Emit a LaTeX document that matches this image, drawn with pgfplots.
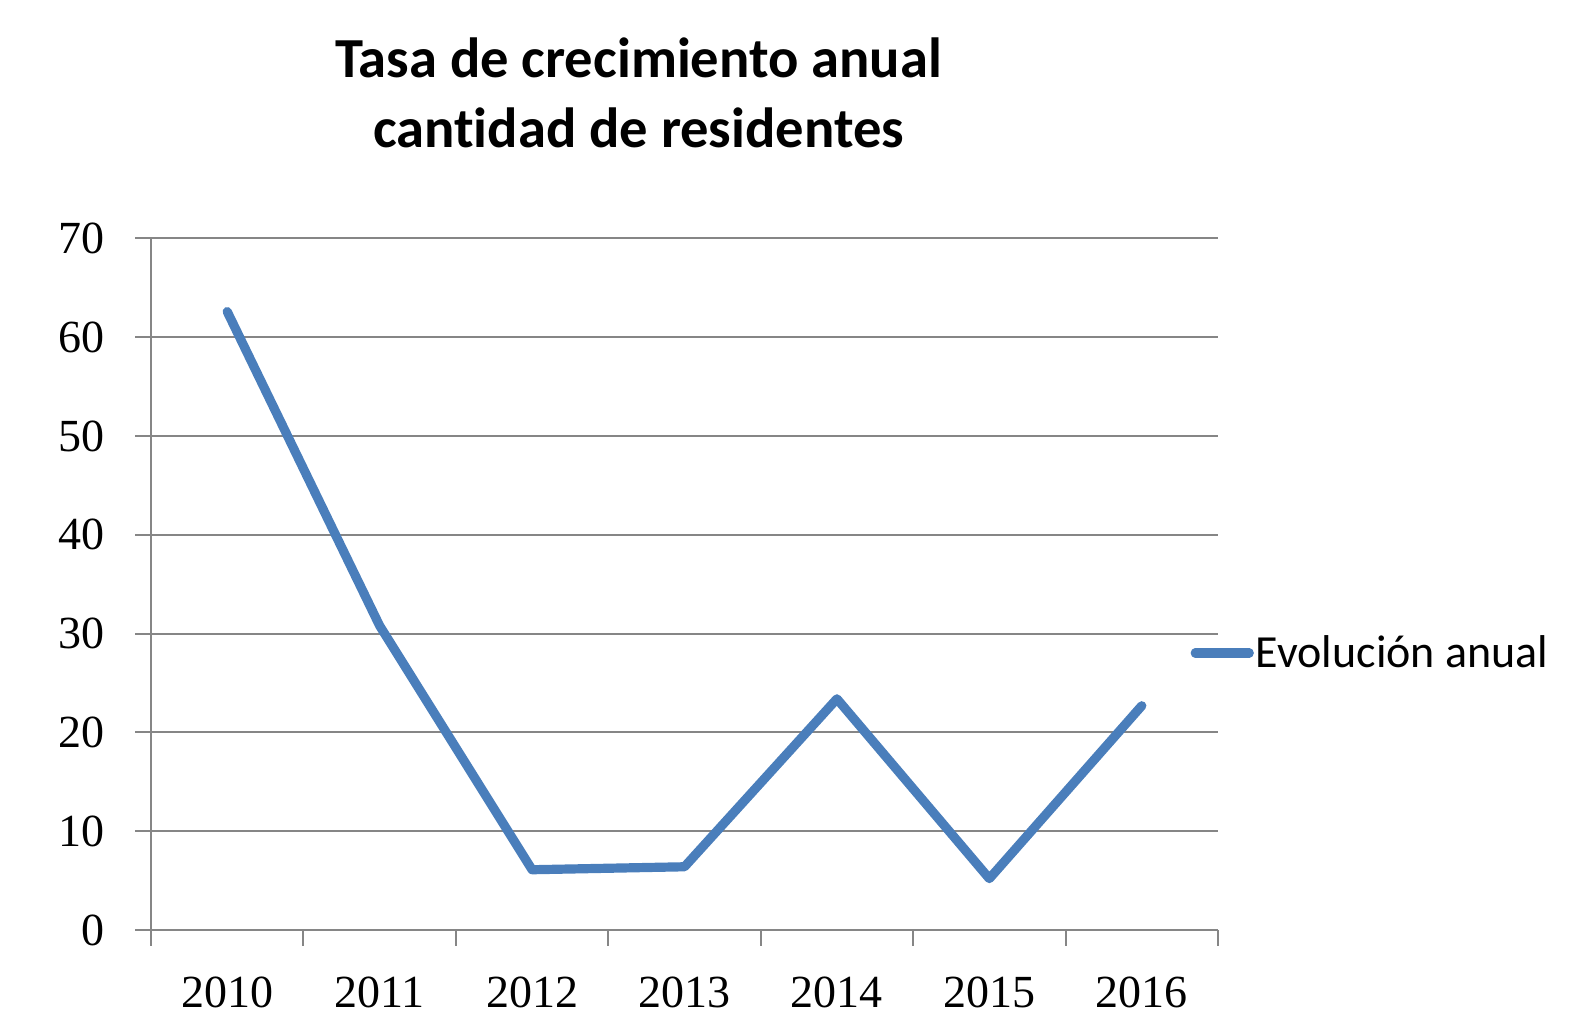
\documentclass[border=0pt]{standalone}
\usepackage{fontspec}
\usepackage{pgfplots}
\pgfplotsset{compat=1.18}
\setmainfont{Carlito}[Ligatures={NoCommon}]
\newfontfamily\tickfont{Liberation Serif}
\definecolor{exblue}{HTML}{4A7EBB}
\definecolor{gridgray}{HTML}{868686}
\begin{document}
\begin{tikzpicture}
\useasboundingbox (0,0) rectangle (789pt,508pt);
\begin{axis}[
  at={(75.5pt,43pt)}, anchor=south west,
  width=533.5pt, height=345.75pt, scale only axis,
  xmin=0, xmax=7, ymin=0, ymax=70,
  xtick={0,...,7},
  xticklabels={2010,2011,2012,2013,2014,2015,2016},
  x tick label as interval,
  ytick={0,10,...,70},
  axis lines=left,
  axis line style={-, draw=gridgray, line width=1pt},
  ymajorgrids, grid style={draw=gridgray, line width=1pt},
  tick align=outside,
  major tick length=8pt,
  tick style={draw=gridgray, line width=1pt},
  /pgf/number format/assume math mode=true,
  ticklabel style={font=\fontsize{23}{26}\selectfont\tickfont},
  xticklabel style={anchor=center, yshift=-23pt, inner sep=0pt},
  yticklabel style={anchor=east, inner sep=0pt, xshift=-15pt},
  title={Tasa de crecimiento anual\\cantidad de residentes},
  title style={align=center, font=\fontsize{28.3}{35.2}\selectfont\bfseries, at={(0.457,1.193)}, anchor=center},
  legend style={at={(0.974,0.4006)}, anchor=west, draw=none, fill=none, inner sep=0pt,
    font=\fontsize{23}{26}\selectfont, nodes={inner sep=1pt}},
  legend image code/.code={\draw[#1] (0pt,0pt) -- (27pt,0pt);},
  clip=false,
]
\addplot[color=exblue, line width=4.6pt, line join=round, line cap=round] coordinates {
  (0.5,62.6) (1.5,30.8) (2.5,6.1) (3.5,6.4) (4.5,23.4) (5.5,5.2) (6.5,22.7)
};
\addlegendentry{Evolución anual}
\end{axis}
\end{tikzpicture}
\end{document}
